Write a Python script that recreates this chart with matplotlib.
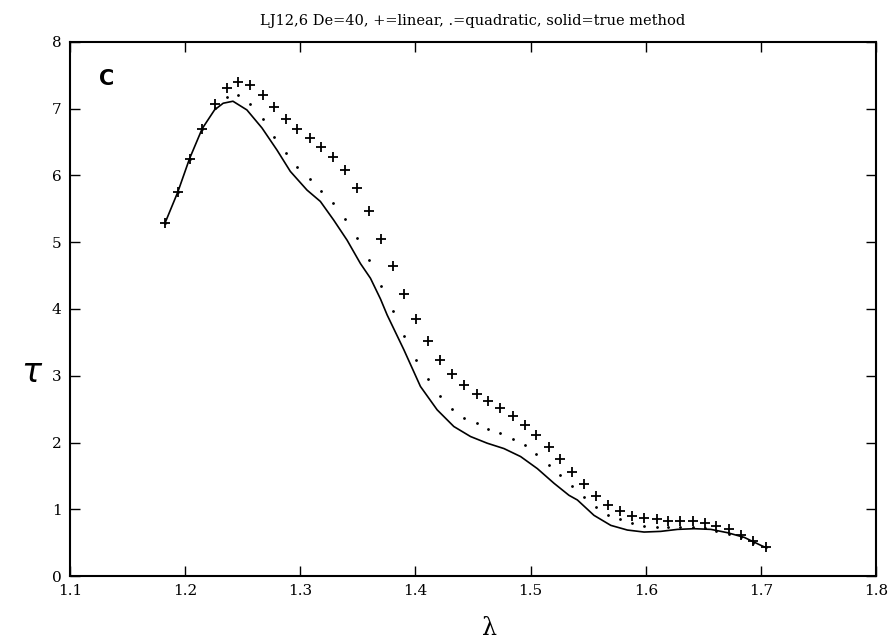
import matplotlib.pyplot as plt

# lambda values of the sampled points (+ and . share them)
lam = [1.1826, 1.1936, 1.2038, 1.2148, 1.2255, 1.2360, 1.2460, 1.2565, 1.2675,
       1.2774, 1.2875, 1.2974, 1.3080, 1.3183, 1.3284, 1.3390, 1.3493, 1.3597,
       1.3704, 1.3806, 1.3902, 1.4006, 1.4110, 1.4215, 1.4319, 1.4423, 1.4530,
       1.4632, 1.4737, 1.4843, 1.4948, 1.5050, 1.5160, 1.5258, 1.5357, 1.5464,
       1.5565, 1.5670, 1.5777, 1.5880, 1.5985, 1.6093, 1.6194, 1.6298, 1.6406,
       1.6510, 1.6610, 1.6719, 1.6826, 1.6933, 1.7040]

# + = linear
tau_lin = [5.29, 5.75, 6.25, 6.70, 7.07, 7.31, 7.40, 7.35, 7.21,
           7.02, 6.84, 6.69, 6.56, 6.42, 6.28, 6.08, 5.81, 5.46,
           5.05, 4.65, 4.23, 3.85, 3.52, 3.23, 3.03, 2.86, 2.73,
           2.62, 2.51, 2.40, 2.27, 2.12, 1.93, 1.75, 1.56, 1.38,
           1.20, 1.07, 0.97, 0.90, 0.87, 0.85, 0.83, 0.82, 0.82,
           0.79, 0.75, 0.70, 0.61, 0.52, 0.43]

# . = quadratic
tau_quad = [5.29, 5.75, 6.25, 6.70, 7.01, 7.18, 7.20, 7.07, 6.84,
            6.57, 6.34, 6.13, 5.94, 5.77, 5.58, 5.34, 5.06, 4.73,
            4.35, 3.97, 3.59, 3.24, 2.95, 2.69, 2.50, 2.37, 2.29,
            2.21, 2.14, 2.06, 1.96, 1.83, 1.67, 1.51, 1.35, 1.18,
            1.03, 0.92, 0.85, 0.79, 0.75, 0.74, 0.74, 0.74, 0.74,
            0.72, 0.68, 0.63, 0.58, 0.50, 0.43]

# solid = true method
lam_true = [1.1826, 1.1936, 1.2038, 1.2148, 1.2255, 1.2330, 1.2415, 1.2536,
            1.2667, 1.2797, 1.2913, 1.3058, 1.3174, 1.3290, 1.3406, 1.3522,
            1.3609, 1.3696, 1.3754, 1.3899, 1.4043, 1.4188, 1.4333, 1.4478,
            1.4623, 1.4768, 1.4913, 1.5058, 1.5203, 1.5333, 1.5406, 1.5550,
            1.5696, 1.5840, 1.5985, 1.6130, 1.6276, 1.6420, 1.6565, 1.6710,
            1.6855, 1.7000, 1.7040]
tau_true = [5.29, 5.75, 6.25, 6.70, 6.98, 7.08, 7.11, 6.98,
            6.71, 6.38, 6.06, 5.78, 5.61, 5.33, 5.03, 4.68,
            4.46, 4.15, 3.91, 3.39, 2.84, 2.49, 2.24, 2.09,
            1.99, 1.91, 1.79, 1.61, 1.39, 1.21, 1.14, 0.91,
            0.76, 0.69, 0.66, 0.67, 0.70, 0.71, 0.70, 0.65,
            0.58, 0.46, 0.43]

plt.rcParams['font.family'] = ['DejaVu Serif']

fig = plt.figure(figsize=(8.94, 6.43), dpi=100)
ax = fig.add_axes([0.0783, 0.104, 0.9017, 0.831])

ax.plot(lam_true, tau_true, color='black', lw=1.2)
ax.plot(lam, tau_quad, ls='none', marker='.', ms=2, color='black')
ax.plot(lam, tau_lin, ls='none', marker='+', ms=7, mew=1.3, color='black')

ax.set_xlim(1.1, 1.8)
ax.set_ylim(0, 8)
ax.set_xticks([1.1, 1.2, 1.3, 1.4, 1.5, 1.6, 1.7, 1.8])
ax.set_yticks(range(0, 9))
ax.tick_params(direction='in', length=7, width=1, top=True, right=True,
               labelsize=11, pad=6)
for s in ax.spines.values():
    s.set_linewidth(1.5)

ax.set_title('LJ12,6 De=40, +=linear, .=quadratic, solid=true method',
             fontsize=10.5, pad=12)
ax.text(1.132, 7.45, 'C', fontsize=15, fontweight='bold',
        family='DejaVu Sans', ha='center', va='center')
fig.text(0.548, 0.022, 'λ', fontsize=17, ha='center', va='center')
fig.text(0.036, 0.42, r'$\tau$', fontsize=24, ha='center', va='center')

fig.savefig('out.png', dpi=100)
